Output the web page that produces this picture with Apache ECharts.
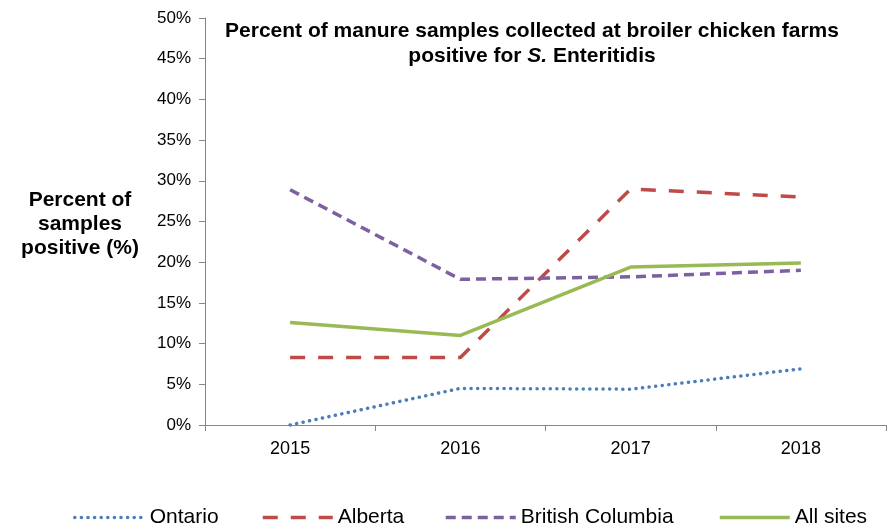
<!DOCTYPE html>
<html><head><meta charset="utf-8">
<script src="https://cdn.jsdelivr.net/npm/echarts@6/dist/echarts.min.js"></script>
<style>html,body{margin:0;padding:0;background:#fff}#c{width:892px;height:528px}</style>
</head><body><div id="c"></div>
<script>
const years = ['2015','2016','2017','2018'];
const ontario = [0, 4.5, 4.4, 6.9];
const alberta = [8.3, 8.3, 29.0, 28.0];
const britishColumbia = [28.9, 17.9, 18.2, 19.0];
const allSites = [12.6, 11.0, 19.4, 19.9];
const seriesNames = ['Ontario','Alberta','British Columbia','All sites'];

const font = 'Liberation Sans, Arial, sans-serif';
const chart = echarts.init(document.getElementById('c'));
const styles = [
  {color: '#4A7EBB', type: [0.1, 6.5], width: 3.5, cap: 'round'},
  {color: '#BE4B48', type: [15, 13], width: 3.5, cap: 'butt'},
  {color: '#7D60A0', type: [10, 6], width: 3.5, cap: 'butt'},
  {color: '#98B954', type: 'solid', width: 3.5, cap: 'butt'}
];
const allData = [ontario, alberta, britishColumbia, allSites];
const legendPos = [68, 256, 439, 713];
chart.setOption({
  animation: false,
  title: {
    text: '{b|Percent of manure samples collected at broiler chicken farms}\n{b|positive for }{i|S.}{b| Enteritidis}',
    left: 527, top: 14, textAlign: 'center',
    textStyle: {
      rich: {
        b: {fontFamily: font, fontWeight: 'bold', fontSize: 21, color: '#000', lineHeight: 25},
        i: {fontFamily: font, fontWeight: 'bold', fontStyle: 'italic', fontSize: 21, color: '#000', lineHeight: 25}
      }
    }
  },
  graphic: [{
    type: 'text', x: 80, y: 188,
    style: {text: 'Percent of\nsamples\npositive (%)', font: 'bold 21px ' + font, fill: '#000', align: 'center', lineHeight: 24}
  }],
  legend: seriesNames.map((n, i) => ({
    data: [n], left: legendPos[i], top: 502, itemWidth: 70, itemHeight: 20, itemGap: 0,
    itemStyle: {opacity: 0},
    lineStyle: {color: styles[i].color, width: styles[i].width, type: styles[i].type, cap: styles[i].cap},
    textStyle: {fontFamily: font, fontSize: 21, color: '#000'},
    selectedMode: false
  })),
  grid: {left: 205, right: 6, top: 18, bottom: 103},
  xAxis: {
    type: 'category', data: years, boundaryGap: true,
    axisLine: {lineStyle: {color: '#868686', width: 1}},
    axisTick: {show: true, length: 6, lineStyle: {color: '#868686'}},
    axisLabel: {fontFamily: font, fontSize: 18, color: '#000', margin: 15}
  },
  yAxis: {
    type: 'value', min: 0, max: 50, interval: 5,
    axisLine: {show: true, lineStyle: {color: '#868686', width: 1}},
    axisTick: {show: true, length: 6, lineStyle: {color: '#868686'}},
    splitLine: {show: false},
    axisLabel: {fontFamily: font, fontSize: 17, color: '#000', margin: 14, formatter: v => v + '%'}
  },
  series: seriesNames.map((n, i) => ({
    name: n, type: 'line', data: allData[i], symbol: 'none', silent: true,
    lineStyle: {color: styles[i].color, width: styles[i].width, type: styles[i].type, cap: styles[i].cap},
    itemStyle: {color: styles[i].color}
  }))
});
</script></body></html>
